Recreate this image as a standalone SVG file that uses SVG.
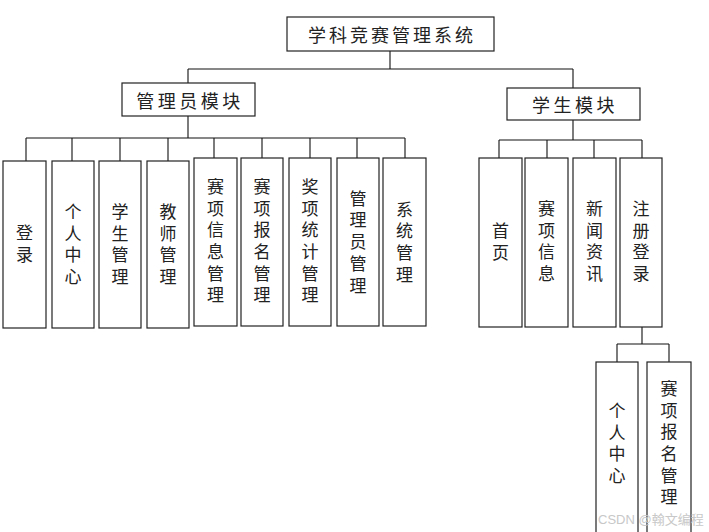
<svg xmlns="http://www.w3.org/2000/svg" width="709" height="532" viewBox="0 0 709 532">
<style>
.box{fill:#fff;stroke:#222;stroke-width:1.2}
.ln{fill:none;stroke:#111;stroke-width:1.1}
.h{font-family:"Noto Sans CJK SC","Noto Sans CJK JP",sans-serif;font-size:18px;fill:#222;text-anchor:middle;dominant-baseline:central}
.v{font-family:"Noto Sans CJK SC","Noto Sans CJK JP",sans-serif;font-size:17px;fill:#222;text-anchor:middle;writing-mode:vertical-rl;letter-spacing:4.7px}
.wm{font-family:"Liberation Sans","Noto Sans CJK SC",sans-serif;font-size:13px;fill:#c8c8c8}
</style>
<rect width="709" height="532" fill="#fff"/>
<g id="connectors" class="ln">
<path d="M390 51V69M188 69H573M188 69V83M573 69V88"/>
<path d="M188 116V138M26 138H405M26 138V161M72 138V161M120 138V161M168 138V161M214 138V158M262 138V158M310 138V158M357 138V158M405 138V158"/>
<path d="M573 120V140M499 140H642M499 140V158M547 140V158M594 140V158M642 140V158"/>
<path d="M642 327V344M617 344H669M617 344V362M669 344V362"/>
</g>
<g id="root"><rect class="box" x="287" y="17" width="207" height="34"/><text class="h" x="392" y="34" style="letter-spacing:3px">学科竞赛管理系统</text></g>
<g id="admin"><rect class="box" x="122" y="83" width="133" height="33"/><text class="h" x="190" y="99.5" style="letter-spacing:3.5px">管理员模块</text></g>
<g id="student"><rect class="box" x="507" y="88" width="133" height="32"/><text class="h" x="575" y="104" style="letter-spacing:3.5px">学生模块</text></g>

<g id="a1"><rect class="box" x="3" y="161" width="43" height="167"/><text class="v" x="24.5" y="246">登录</text></g>
<g id="a2"><rect class="box" x="52" y="161" width="42" height="167"/><text class="v" x="73" y="246.5">个人中心</text></g>
<g id="a3"><rect class="box" x="99" y="161" width="42" height="167"/><text class="v" x="120" y="246.5">学生管理</text></g>
<g id="a4"><rect class="box" x="147" y="161" width="42" height="167"/><text class="v" x="168" y="246.5">教师管理</text></g>
<g id="a5"><rect class="box" x="194" y="158" width="43" height="168"/><text class="v" x="215.5" y="243">赛项信息管理</text></g>
<g id="a6"><rect class="box" x="241" y="158" width="42" height="168"/><text class="v" x="262" y="243">赛项报名管理</text></g>
<g id="a7"><rect class="box" x="289" y="158" width="42" height="168"/><text class="v" x="310" y="243">奖项统计管理</text></g>
<g id="a8"><rect class="box" x="337" y="158" width="42" height="168"/><text class="v" x="358" y="244">管理员管理</text></g>
<g id="a9"><rect class="box" x="383" y="158" width="43" height="168"/><text class="v" x="404.5" y="244">系统管理</text></g>

<g id="s1"><rect class="box" x="479" y="158" width="43" height="169"/><text class="v" x="500.5" y="244">首页</text></g>
<g id="s2"><rect class="box" x="525" y="158" width="43" height="169"/><text class="v" x="546.5" y="243.5">赛项信息</text></g>
<g id="s3"><rect class="box" x="573" y="158" width="43" height="169"/><text class="v" x="594.5" y="243.5">新闻资讯</text></g>
<g id="s4"><rect class="box" x="620" y="158" width="42" height="169"/><text class="v" x="641" y="243.5">注册登录</text></g>

<g id="r1"><rect class="box" x="596" y="362" width="42" height="180"/><text class="v" x="617" y="445.5">个人中心</text></g>
<g id="r2"><rect class="box" x="647" y="362" width="44" height="180"/><text class="v" x="669" y="445">赛项报名管理</text></g>

<text class="wm" x="598" y="524">CSDN @翰文编程</text>
</svg>
